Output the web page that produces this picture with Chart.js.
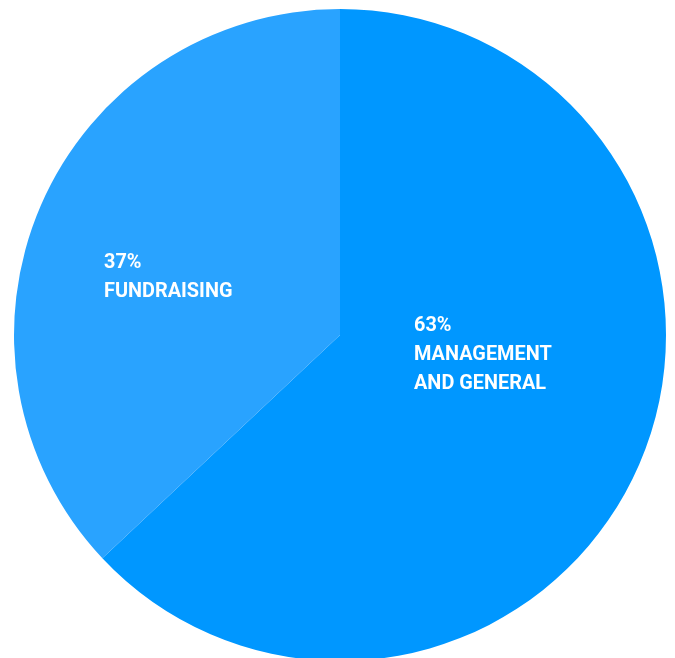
<!DOCTYPE html>
<html>
<head>
<meta charset="utf-8">
<script src="https://cdn.jsdelivr.net/npm/chart.js@4/dist/chart.umd.min.js"></script>
<style>
  html, body { margin: 0; padding: 0; background: #fff; overflow: hidden; }
  #wrap { width: 675px; height: 670px; }
</style>
</head>
<body>
<div id="wrap"><canvas id="pieChart"></canvas></div>
<script>
// data
const categories = ["MANAGEMENT AND GENERAL", "FUNDRAISING"];
const percentages = [63, 37];
const labelLines = [["63%", "MANAGEMENT", "AND GENERAL"], ["37%", "FUNDRAISING"]];
const sliceColors = ["#0097ff", "#29a3ff"];

// posisi label relatif ke pusat lingkaran (dalam satuan radius)
const labelOffsets = [[0.227, -0.012], [-0.724, -0.205]];

const sliceLabels = {
  id: "sliceLabels",
  afterDatasetsDraw(chart) {
    const ctx = chart.ctx;
    const meta = chart.getDatasetMeta(0);
    ctx.save();
    ctx.fillStyle = "#ffffff";
    ctx.font = "bold 20.5px Roboto, 'Open Sans', sans-serif";
    ctx.textAlign = "left";
    ctx.textBaseline = "alphabetic";
    meta.data.forEach((arc, i) => {
      const r = arc.outerRadius;
      const x = arc.x + labelOffsets[i][0] * r;
      let y = arc.y + labelOffsets[i][1] * r;
      labelLines[i].forEach((line) => {
        // sedikit dipadatkan supaya lebarnya mirip
        ctx.save();
        ctx.translate(x, y);
        ctx.scale(0.97, 1);
        ctx.fillText(line, 0, 0);
        ctx.restore();
        y += 29;
      });
    });
    ctx.restore();
  },
};

window.onload = () => {
  const pieCtx = document.getElementById("pieChart").getContext("2d");
  new Chart(pieCtx, {
    type: "pie",
    data: {
      labels: categories,
      datasets: [
        {
          data: percentages,
          backgroundColor: sliceColors,
          borderWidth: 0,
        },
      ],
    },
    options: {
      responsive: true,
      maintainAspectRatio: false,
      animation: false,
      layout: { padding: { left: 14, right: 9, top: 9, bottom: 9 } },
      plugins: {
        legend: { display: false },
        tooltip: { enabled: false },
      },
    },
    plugins: [sliceLabels],
  });
};
</script>
</body>
</html>
